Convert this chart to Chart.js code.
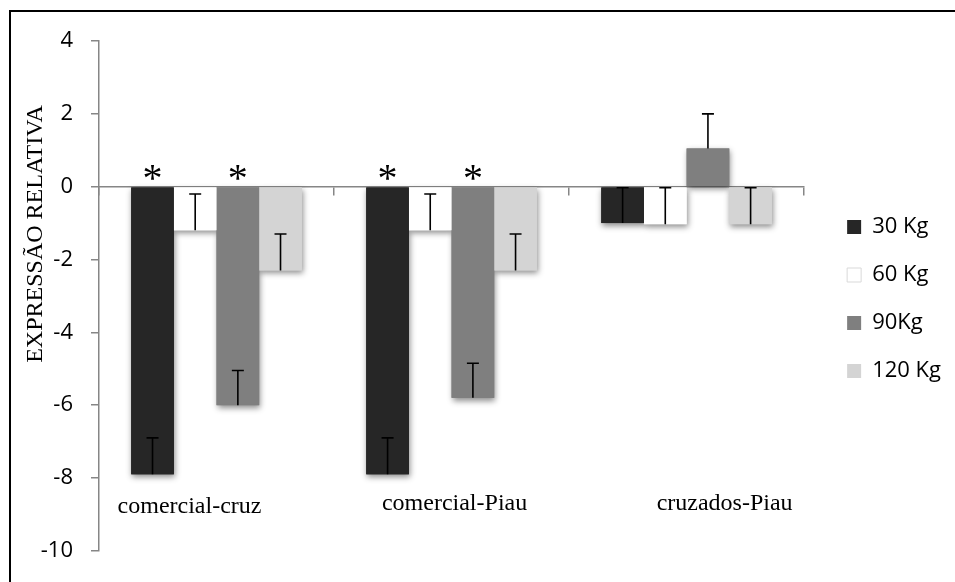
<!DOCTYPE html>
<html>
<head>
<meta charset="utf-8">
<script src="https://cdn.jsdelivr.net/npm/chart.js"></script>
<style>
  html, body { margin: 0; padding: 0; background: #ffffff; }
  #wrap { position: relative; width: 955px; height: 582px; overflow: hidden; }
  #frame { position: absolute; left: 9px; top: 10px; width: 1000px; height: 1000px;
           border-left: 2px solid #000; border-top: 2px solid #000; }
  #c { position: absolute; left: 0; top: 0; }
</style>
</head>
<body>
<div id="wrap">
  <div id="frame"></div>
  <canvas id="c" width="955" height="582"></canvas>
</div>
<script>
// Categories and series
const categories = ['comercial-cruz', 'comercial-Piau', 'cruzados-Piau'];
const seriesNames = ['30 Kg', '60 Kg', '90Kg', '120 Kg'];

// Mean relative expression per group
const kg30  = [-7.9, -7.9, -1.0];
const kg60  = [-1.2, -1.2, -1.03];
const kg90  = [-6.0, -5.8, 1.05];
const kg120 = [-2.3, -2.3, -1.03];

// Error bar length (drawn upward from each bar end)
const err30  = [1.0, 1.0, 0.97];
const err60  = [1.0, 1.0, 1.0];
const err90  = [0.95, 0.95, 0.95];
const err120 = [1.0, 1.0, 1.0];

// Significance marks above the zero line
const sig30  = ['*', '*', ''];
const sig60  = ['', '', ''];
const sig90  = ['*', '*', ''];
const sig120 = ['', '', ''];

// Value axis
const yMin = -10, yMax = 4, yStep = 2;
const yTitle = 'EXPRESSÃO RELATIVA';

const colors = ['#262626', '#ffffff', '#7f7f7f', '#d4d4d4'];
const values = [kg30, kg60, kg90, kg120];
const errors = [err30, err60, err90, err120];
const marks  = [sig30, sig60, sig90, sig120];

const SERIF = '"Liberation Serif", "Times New Roman", serif';
const SANS = '"Open Sans", sans-serif';

// soft drop shadow beneath every bar
const barShadow = {
  id: 'barShadow',
  beforeDatasetsDraw(chart) {
    const ctx = chart.ctx;
    ctx.save();
    chart.data.datasets.forEach((ds, i) => {
      chart.getDatasetMeta(i).data.forEach(bar => {
        const p = bar.getProps(['x', 'y', 'base', 'width'], true);
        ctx.save();
        ctx.shadowColor = 'rgba(0,0,0,0.45)';
        ctx.shadowBlur = 6;
        ctx.shadowOffsetX = 1;
        ctx.shadowOffsetY = 3;
        ctx.fillStyle = ds.backgroundColor;
        ctx.fillRect(p.x - p.width / 2, Math.min(p.y, p.base), p.width, Math.abs(p.y - p.base));
        ctx.restore();
      });
    });
    ctx.restore();
  }
};

// error bars, asterisks, category names and the value-axis title
const annotations = {
  id: 'annotations',
  afterDatasetsDraw(chart) {
    const ctx = chart.ctx;
    const ys = chart.scales.y;
    const xs = chart.scales.x;
    ctx.save();
    // error bars
    ctx.strokeStyle = '#000';
    ctx.lineWidth = 1.6;
    values.forEach((vals, i) => {
      const meta = chart.getDatasetMeta(i);
      vals.forEach((v, j) => {
        const x = meta.data[j].x;
        const y1 = ys.getPixelForValue(v);
        const y2 = ys.getPixelForValue(v + errors[i][j]);
        ctx.beginPath();
        ctx.moveTo(x, y1);
        ctx.lineTo(x, y2);
        ctx.moveTo(x - 6, y2);
        ctx.lineTo(x + 6, y2);
        ctx.stroke();
      });
    });
    // significance asterisks
    ctx.fillStyle = '#000';
    ctx.font = '40px ' + SERIF;
    ctx.textAlign = 'center';
    ctx.textBaseline = 'alphabetic';
    const zeroY = ys.getPixelForValue(0);
    marks.forEach((row, i) => {
      const meta = chart.getDatasetMeta(i);
      row.forEach((m, j) => {
        if (!m) return;
        const mm = ctx.measureText(m);
        const cy = zeroY - 14;
        ctx.fillText(m, meta.data[j].x, cy + (mm.actualBoundingBoxAscent - mm.actualBoundingBoxDescent) / 2);
      });
    });
    // category names under the groups
    ctx.font = '24px ' + SERIF;
    const dx = [-27, 3, 38];
    const dy = [35, 32, 32];
    categories.forEach((c, j) => {
      ctx.fillText(c, xs.getPixelForValue(j) + dx[j], ys.getPixelForValue(-8) + dy[j]);
    });
    // value-axis title
    ctx.font = '24px ' + SERIF;
    ctx.translate(42, 234);
    ctx.rotate(-Math.PI / 2);
    ctx.fillText(yTitle, 0, 0);
    ctx.restore();
  },
  afterLayout(chart) {
    // leave a gap between the plot and the legend column
    const lg = chart.legend;
    if (lg) { lg.left += 17; lg.right += 17; }
  }
};

new Chart(document.getElementById('c'), {
  type: 'bar',
  data: {
    labels: categories,
    datasets: seriesNames.map((name, i) => ({
      label: name,
      data: values[i],
      backgroundColor: colors[i],
      borderWidth: 0,
      categoryPercentage: 0.726,
      barPercentage: 1.0
    }))
  },
  options: {
    responsive: false,
    animation: false,
    events: [],
    layout: { padding: { left: 0, top: 41, bottom: 25, right: 21 } },
    plugins: {
      tooltip: { enabled: false },
      legend: {
        position: 'right',
        labels: {
          color: '#000',
          font: { family: SANS, size: 22 },
          boxWidth: 14,
          boxHeight: 14,
          padding: 26,
          generateLabels(chart) {
            return chart.data.datasets.map((ds, i) => ({
              text: ds.label,
              fillStyle: ds.backgroundColor,
              strokeStyle: i === 1 ? '#d9d9d9' : ds.backgroundColor,
              lineWidth: i === 1 ? 1 : 0,
              hidden: false,
              datasetIndex: i
            }));
          }
        }
      }
    },
    scales: {
      x: {
        position: { y: 0 },
        grid: { display: true, drawOnChartArea: false, drawTicks: true, tickLength: 8,
                color: '#868686', lineWidth: 1.5, offset: true },
        border: { display: true, color: '#868686', width: 1.5 },
        ticks: { display: false }
      },
      y: {
        min: yMin, max: yMax,
        ticks: { stepSize: yStep, color: '#000', font: { family: SANS, size: 22 }, padding: 18 },
        grid: { display: true, drawOnChartArea: false, drawTicks: true, tickLength: 8,
                color: '#868686', lineWidth: 1.5 },
        border: { display: true, color: '#868686', width: 1.5 },
        afterFit(scale) { scale.width = 99; }
      }
    }
  },
  plugins: [barShadow, annotations]
});
</script>
</body>
</html>
